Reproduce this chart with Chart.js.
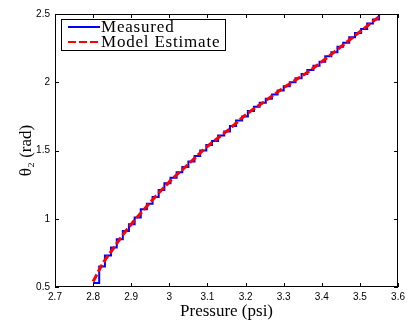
<!DOCTYPE html>
<html>
<head>
<meta charset="utf-8">
<script src="https://cdn.jsdelivr.net/npm/chart.js@4/dist/chart.umd.min.js"></script>
<style>
  body { margin: 0; background: #fff; }
</style>
</head>
<body>
<canvas id="chartPresion" width="409" height="323"></canvas>
<script>
// measured: quantized pressure steps
const pressureMeasured = [2.800, 2.816, 2.831, 2.847, 2.862, 2.878, 2.894, 2.909, 2.925, 2.941,
    2.956, 2.972, 2.987, 3.003, 3.019, 3.034, 3.050, 3.066, 3.081, 3.097,
    3.112, 3.128, 3.144, 3.159, 3.175, 3.191, 3.206, 3.222, 3.237, 3.253,
    3.269, 3.284, 3.300, 3.316, 3.331, 3.347, 3.362, 3.378, 3.394, 3.409,
    3.425, 3.441, 3.456, 3.472, 3.487, 3.503, 3.519, 3.534, 3.550]
const thetaMeasured = [0.53, 0.65, 0.73, 0.79, 0.85, 0.91, 0.96, 1.01, 1.07, 1.11,
    1.16, 1.21, 1.26, 1.30, 1.34, 1.38, 1.42, 1.46, 1.50, 1.54,
    1.57, 1.61, 1.64, 1.68, 1.72, 1.75, 1.79, 1.82, 1.85, 1.88,
    1.91, 1.94, 1.97, 2.00, 2.03, 2.06, 2.09, 2.12, 2.15, 2.19,
    2.22, 2.26, 2.29, 2.33, 2.36, 2.39, 2.43, 2.46, 2.50]

const pressureModel = [2.80, 2.825, 2.85, 2.875, 2.90, 2.95, 3.00, 3.05, 3.10, 3.15, 3.20, 3.25, 3.30, 3.35, 3.40, 3.45, 3.50, 3.55]
const thetaModel = [0.54, 0.67, 0.77, 0.87, 0.96, 1.12, 1.27, 1.40, 1.53, 1.64, 1.76, 1.86, 1.96, 2.05, 2.15, 2.26, 2.37, 2.48]

const xTicks = { min: 2.7, max: 3.6, step: 0.1 }
const yTicks = { min: 0.5, max: 2.5, step: 0.5 }

const toPoints = (xs, ys) => xs.map((x, i) => ({ x: x, y: ys[i] }))

const serif = '"Liberation Serif", "DejaVu Serif", serif'
const sans = '"Liberation Sans", Arial, sans-serif'

// ticks inside the box, on all four sides
const boxTicks = {
    id: 'boxTicks',
    afterDatasetsDraw(chart) {
        const { ctx, chartArea: a, scales } = chart
        ctx.save()
        ctx.strokeStyle = '#000'
        ctx.lineWidth = 1
        ctx.setLineDash([])
        ctx.beginPath()
        scales.x.ticks.forEach(t => {
            const px = Math.round(scales.x.getPixelForValue(t.value)) + 0.5
            ctx.moveTo(px, a.bottom); ctx.lineTo(px, a.bottom - 4)
            ctx.moveTo(px, a.top); ctx.lineTo(px, a.top + 4)
        })
        scales.y.ticks.forEach(t => {
            const py = Math.round(scales.y.getPixelForValue(t.value)) + 0.5
            ctx.moveTo(a.left, py); ctx.lineTo(a.left + 4, py)
            ctx.moveTo(a.right, py); ctx.lineTo(a.right - 4, py)
        })
        ctx.stroke()
        ctx.strokeRect(Math.round(a.left) + 0.5, Math.round(a.top) + 0.5,
            Math.round(a.width) - 1, Math.round(a.height) - 1)
        ctx.restore()
    }
}

// boxed legend in the upper left corner of the plot
const boxLegend = {
    id: 'boxLegend',
    afterDraw(chart) {
        const { ctx, chartArea: a } = chart
        const x0 = a.left + 6, y0 = a.top + 5
        const w = 164, h = 31
        ctx.save()
        ctx.fillStyle = '#fff'
        ctx.fillRect(x0, y0, w, h)
        ctx.strokeStyle = '#000'
        ctx.lineWidth = 1
        ctx.strokeRect(x0 + 0.5, y0 + 0.5, w, h)
        ctx.font = '17px ' + serif
        ctx.letterSpacing = '0.8px'
        ctx.textBaseline = 'middle'
        chart.data.datasets.forEach((ds, i) => {
            const ly = y0 + 8 + i * 15
            ctx.strokeStyle = ds.borderColor
            ctx.lineWidth = 2
            ctx.setLineDash(ds.borderDash || [])
            ctx.beginPath()
            ctx.moveTo(x0 + 7, ly)
            ctx.lineTo(x0 + 39, ly)
            ctx.stroke()
            ctx.fillStyle = '#000'
            ctx.fillText(ds.label, x0 + 40, ly + 1)
        })
        ctx.restore()
    }
}

const context = document.getElementById('chartPresion').getContext('2d')

const chartPresion = new Chart(context, {
    type: 'line',
    data: {
        datasets: [
            {
                label: 'Measured',
                data: toPoints(pressureMeasured, thetaMeasured),
                borderColor: '#0000ff',
                borderWidth: 2,
                stepped: 'before',
                pointRadius: 0,
                fill: false,
                order: 2
            },
            {
                label: 'Model Estimate',
                data: toPoints(pressureModel, thetaModel),
                borderColor: '#ff0000',
                borderWidth: 3,
                borderDash: [8, 3],
                cubicInterpolationMode: 'monotone',
                pointRadius: 0,
                fill: false,
                order: 1
            }
        ]
    },
    options: {
        responsive: false,
        animation: false,
        events: [],
        layout: { padding: { top: 14, right: 9, left: 0, bottom: 0 } },
        plugins: {
            legend: { display: false },
            tooltip: { enabled: false }
        },
        scales: {
            x: {
                type: 'linear',
                min: xTicks.min,
                max: xTicks.max,
                grid: { display: false, drawTicks: false, tickLength: 0 },
                border: { display: false },
                ticks: {
                    stepSize: xTicks.step,
                    color: '#000',
                    padding: 4,
                    maxRotation: 0,
                    font: { family: sans, size: 10 },
                    callback: v => String(Number(v.toFixed(1)))
                },
                title: {
                    display: true,
                    text: 'Pressure (psi)',
                    color: '#000',
                    padding: { top: 0, bottom: 1 },
                    font: { family: serif, size: 17 }
                },
                afterFit: s => { s.height = 36 }
            },
            y: {
                type: 'linear',
                min: yTicks.min,
                max: yTicks.max,
                grid: { display: false, drawTicks: false, tickLength: 0 },
                border: { display: false },
                ticks: {
                    stepSize: yTicks.step,
                    color: '#000',
                    padding: 5,
                    font: { family: sans, size: 10 },
                    callback: v => String(Number(v.toFixed(1)))
                },
                title: {
                    display: true,
                    text: 'θ₂ (rad)',
                    color: '#000',
                    padding: { top: 16, bottom: 0 },
                    font: { family: serif, size: 17 }
                },
                afterFit: s => { s.width = 55 }
            }
        }
    },
    plugins: [boxTicks, boxLegend]
})
</script>
</body>
</html>
